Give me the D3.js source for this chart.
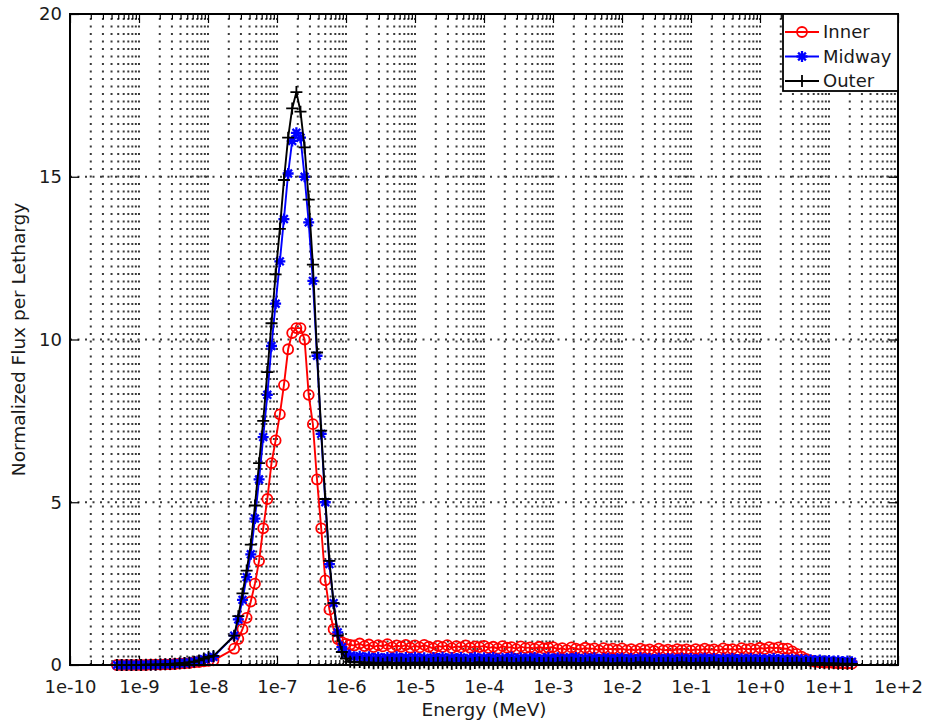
<!DOCTYPE html>
<html>
<head>
<meta charset="utf-8">
<title>Normalized flux per lethargy</title>
<script src="https://cdn.jsdelivr.net/npm/d3@7"></script>
<style>
  body { margin: 0; background: #fff; }
  text { font-family: "DejaVu Sans", sans-serif; fill: #1a1a1a; }
  .grid line { stroke: #3a3a3a; stroke-width: 2; stroke-dasharray: 2 5.5; }
  .ticks line { stroke: #000; stroke-width: 1.2; }
  .ticks path { display: none; }
</style>
</head>
<body>
<svg id="chart" width="929" height="723"></svg>
<script>
// energy grid (MeV), shared by the three curves
var energy = [
  4.79e-10, 5.62e-10, 6.61e-10, 7.76e-10, 9.12e-10, 1.07e-9, 1.26e-9, 1.48e-9, 1.74e-9, 2.04e-9,
  2.40e-9, 2.82e-9, 3.31e-9, 3.89e-9, 4.57e-9, 5.37e-9, 6.31e-9, 7.41e-9, 8.71e-9, 1.02e-8, 1.20e-8,
  2.40e-8, 2.75e-8, 3.16e-8, 3.63e-8, 4.17e-8, 4.79e-8, 5.50e-8, 6.31e-8, 7.24e-8, 8.32e-8,
  9.55e-8, 1.10e-7, 1.26e-7, 1.45e-7, 1.66e-7, 1.91e-7, 2.19e-7, 2.51e-7, 2.88e-7, 3.31e-7,
  3.80e-7, 4.37e-7, 5.01e-7, 5.75e-7, 6.61e-7, 7.59e-7, 8.71e-7, 1.00e-6, 1.15e-6, 1.32e-6,
  1.58e-6, 1.85e-6, 2.15e-6, 2.51e-6, 2.93e-6, 3.41e-6, 3.98e-6, 4.64e-6, 5.41e-6, 6.31e-6, 7.36e-6, 8.58e-6,
  1.00e-5, 1.17e-5, 1.36e-5, 1.58e-5, 1.85e-5, 2.15e-5, 2.51e-5, 2.93e-5, 3.41e-5, 3.98e-5, 4.64e-5, 5.41e-5, 6.31e-5, 7.36e-5, 8.58e-5,
  1.00e-4, 1.17e-4, 1.36e-4, 1.58e-4, 1.85e-4, 2.15e-4, 2.51e-4, 2.93e-4, 3.41e-4, 3.98e-4, 4.64e-4, 5.41e-4, 6.31e-4, 7.36e-4, 8.58e-4,
  1.00e-3, 1.17e-3, 1.36e-3, 1.58e-3, 1.85e-3, 2.15e-3, 2.51e-3, 2.93e-3, 3.41e-3, 3.98e-3, 4.64e-3, 5.41e-3, 6.31e-3, 7.36e-3, 8.58e-3,
  1.00e-2, 1.17e-2, 1.36e-2, 1.58e-2, 1.85e-2, 2.15e-2, 2.51e-2, 2.93e-2, 3.41e-2, 3.98e-2, 4.64e-2, 5.41e-2, 6.31e-2, 7.36e-2, 8.58e-2,
  1.00e-1, 1.17e-1, 1.36e-1, 1.58e-1, 1.85e-1, 2.15e-1, 2.51e-1, 2.93e-1, 3.41e-1, 3.98e-1, 4.64e-1, 5.41e-1, 6.31e-1, 7.36e-1, 8.58e-1,
  1.00, 1.17, 1.36, 1.58, 1.85, 2.15, 2.51, 2.93, 3.41, 3.98, 4.64, 5.41, 6.31, 7.36, 8.58,
  10.0, 11.7, 13.6, 15.8, 18.5, 21.5
];

var inner = [
  0, 0, 0, 0, 0, 0, 0, 0.01, 0.01, 0.01, 0.02, 0.02, 0.03, 0.04, 0.05, 0.06, 0.08, 0.09, 0.11, 0.13, 0.14,
  0.5, 0.8, 1.1, 1.45, 1.95, 2.5, 3.2, 4.2, 5.1, 6.2, 6.9, 7.7, 8.6, 9.7, 10.2,
  10.35, 10.35, 10.0, 8.3, 7.4, 5.7, 4.2, 2.6, 1.7, 1.1, 0.8, 0.7, 0.65, 0.62, 0.6,
  0.66, 0.58, 0.63, 0.55, 0.61, 0.57, 0.64, 0.54, 0.6, 0.56, 0.62, 0.53,
  0.6, 0.54, 0.62, 0.56, 0.51, 0.59, 0.55, 0.61, 0.52, 0.58, 0.54, 0.6, 0.53, 0.57, 0.55,
  0.59, 0.52, 0.56, 0.5, 0.58, 0.53, 0.55, 0.49, 0.57, 0.52, 0.54, 0.5, 0.56, 0.51, 0.53,
  0.55, 0.48, 0.52, 0.46, 0.54, 0.5, 0.47, 0.53, 0.49, 0.51, 0.45, 0.52, 0.48, 0.5, 0.46,
  0.51, 0.45, 0.49, 0.44, 0.5, 0.46, 0.48, 0.43, 0.5, 0.45, 0.47, 0.44, 0.49, 0.46, 0.48,
  0.44, 0.49, 0.45, 0.5, 0.46, 0.48, 0.44, 0.51, 0.47, 0.49, 0.45, 0.52, 0.48, 0.5, 0.47,
  0.53, 0.49, 0.55, 0.51, 0.54, 0.5, 0.5, 0.42, 0.34, 0.26, 0.19, 0.13, 0.1, 0.08, 0.07,
  0.07, 0.06, 0.05, 0.05, 0.04, 0.04
];

var midway = [
  0, 0, 0, 0, 0, 0, 0.01, 0.01, 0.01, 0.02, 0.02, 0.03, 0.04, 0.05, 0.06, 0.08, 0.1, 0.13, 0.18, 0.22, 0.25,
  0.9, 1.4, 2.0, 2.7, 3.4, 4.5, 5.7, 7.0, 8.3, 9.8, 11.1, 12.4, 13.7, 15.1, 16.1,
  16.35, 16.2, 15.0, 13.6, 11.8, 9.5, 7.1, 5.0, 3.1, 1.9, 1.0, 0.55, 0.35, 0.28, 0.25,
  0.27, 0.22, 0.25, 0.2, 0.24, 0.19, 0.23, 0.21, 0.25, 0.2, 0.23, 0.19,
  0.24, 0.2, 0.22, 0.18, 0.23, 0.2, 0.24, 0.19, 0.22, 0.2, 0.23, 0.18, 0.21, 0.24, 0.19,
  0.22, 0.19, 0.23, 0.18, 0.21, 0.2, 0.24, 0.18, 0.22, 0.19, 0.21, 0.23, 0.18, 0.2, 0.22,
  0.19, 0.22, 0.18, 0.21, 0.2, 0.23, 0.17, 0.21, 0.19, 0.22, 0.18, 0.2, 0.21, 0.17, 0.2,
  0.21, 0.18, 0.2, 0.17, 0.22, 0.19, 0.2, 0.17, 0.21, 0.18, 0.2, 0.19, 0.17, 0.21, 0.18,
  0.2, 0.17, 0.19, 0.21, 0.18, 0.2, 0.17, 0.19, 0.18, 0.2, 0.17, 0.19, 0.18, 0.2, 0.17,
  0.19, 0.17, 0.18, 0.2, 0.17, 0.18, 0.16, 0.18, 0.15, 0.17, 0.15, 0.16, 0.14, 0.15, 0.13,
  0.14, 0.12, 0.13, 0.11, 0.12, 0.1
];

var outer = [
  0, 0, 0, 0, 0, 0, 0.01, 0.01, 0.01, 0.02, 0.02, 0.03, 0.04, 0.05, 0.06, 0.08, 0.1, 0.14, 0.2, 0.25, 0.28,
  0.9, 1.5, 2.2, 2.9, 3.7, 4.9, 6.2, 7.5, 9.0, 10.5, 12.0, 13.4, 14.9, 16.2, 17.1,
  17.6, 17.0, 15.9, 14.3, 12.3, 9.6, 7.2, 5.1, 3.2, 1.9, 0.9, 0.4, 0.2, 0.1, 0.08,
  0.09, 0.06, 0.08, 0.05, 0.07, 0.04, 0.08, 0.06, 0.05, 0.07, 0.04, 0.06,
  0.07, 0.05, 0.08, 0.04, 0.06, 0.07, 0.05, 0.08, 0.04, 0.06, 0.05, 0.07, 0.04, 0.06, 0.08,
  0.05, 0.07, 0.04, 0.06, 0.08, 0.05, 0.06, 0.04, 0.07, 0.05, 0.08, 0.04, 0.06, 0.05, 0.07,
  0.04, 0.06, 0.08, 0.05, 0.07, 0.04, 0.06, 0.05, 0.08, 0.04, 0.06, 0.07, 0.05, 0.04, 0.06,
  0.07, 0.05, 0.04, 0.06, 0.08, 0.05, 0.07, 0.04, 0.06, 0.05, 0.07, 0.04, 0.06, 0.08, 0.05,
  0.06, 0.04, 0.07, 0.05, 0.06, 0.08, 0.04, 0.06, 0.05, 0.07, 0.04, 0.06, 0.05, 0.07, 0.05,
  0.06, 0.04, 0.07, 0.05, 0.06, 0.04, 0.06, 0.05, 0.07, 0.04, 0.06, 0.05, 0.04, 0.06, 0.05,
  0.04, 0.05, 0.04, 0.03, 0.04, 0.03
];

var seriesNames = ["Inner", "Midway", "Outer"];
var seriesColors = ["#ff0000", "#0000ff", "#000000"];
var xDecades = [1e-10, 1e-9, 1e-8, 1e-7, 1e-6, 1e-5, 1e-4, 1e-3, 1e-2, 1e-1, 1e0, 1e1, 1e2];
var yTicks = [0, 5, 10, 15, 20];

var margin = {top: 14, right: 31, bottom: 58, left: 70},
    width = 929 - margin.left - margin.right,
    height = 723 - margin.top - margin.bottom;

var svg = d3.select("#chart");
var g = svg.append("g")
    .attr("transform", "translate(" + margin.left + "," + margin.top + ")");

var x = d3.scaleLog().domain([1e-10, 1e2]).range([0, width]);
var y = d3.scaleLinear().domain([0, 20]).range([height, 0]);

// minor ticks 2..9 of every decade
var xMinor = [];
xDecades.slice(0, -1).forEach(function(d) {
  for (var k = 2; k <= 9; k++) xMinor.push(k * d);
});

function decadeLabel(d) {
  var e = Math.round(Math.log10(d));
  return "1e" + (e >= 0 ? "+" : "") + e;
}

// dotted grid
var grid = g.append("g").attr("class", "grid");
grid.selectAll(".vg")
  .data(xMinor.concat(xDecades.slice(1, -1)))
  .enter().append("line")
    .attr("x1", function(d) { return x(d); })
    .attr("x2", function(d) { return x(d); })
    .attr("y1", height)
    .attr("y2", 0);
grid.selectAll(".hg")
  .data([5, 10, 15])
  .enter().append("line")
    .attr("x1", 0)
    .attr("x2", width)
    .attr("y1", function(d) { return y(d); })
    .attr("y2", function(d) { return y(d); });

// ticks (drawn inward, gnuplot style)
var bottom = g.append("g").attr("class", "ticks")
  .attr("transform", "translate(0," + height + ")")
  .call(d3.axisBottom(x).tickValues(xDecades).tickFormat(decadeLabel).tickSize(-9).tickPadding(15));
bottom.selectAll("text").style("font-size", "18px").attr("fill", "#1a1a1a");
g.append("g").attr("class", "ticks")
  .attr("transform", "translate(0," + height + ")")
  .call(d3.axisBottom(x).tickValues(xMinor).tickFormat("").tickSize(-5));
g.append("g").attr("class", "ticks")
  .call(d3.axisTop(x).tickValues(xDecades).tickFormat("").tickSize(-9));
g.append("g").attr("class", "ticks")
  .call(d3.axisTop(x).tickValues(xMinor).tickFormat("").tickSize(-5));
var left = g.append("g").attr("class", "ticks")
  .call(d3.axisLeft(y).tickValues(yTicks).tickSize(-9).tickPadding(8));
left.selectAll("text").style("font-size", "18px").attr("fill", "#1a1a1a");
g.append("g").attr("class", "ticks")
  .attr("transform", "translate(" + width + ",0)")
  .call(d3.axisRight(y).tickValues(yTicks).tickFormat("").tickSize(-9));

// curves
var seriesValues = [inner, midway, outer];
var line = d3.line()
  .x(function(d) { return x(d.e); })
  .y(function(d) { return y(d.v); });

var plusPath = "M-6,0H6M0,-6V6";
var starPath = "M-5.5,0H5.5M0,-5.5V5.5M-3.9,-3.9L3.9,3.9M-3.9,3.9L3.9,-3.9";

function drawMarker(sel, i, color) {
  if (i === 0) {
    sel.append("circle").attr("r", 5)
      .attr("fill", "none").attr("stroke", color).attr("stroke-width", 1.8);
  } else {
    sel.append("path").attr("d", i === 1 ? starPath : plusPath)
      .attr("fill", "none").attr("stroke", color).attr("stroke-width", i === 1 ? 2.3 : 1.8);
  }
}

seriesValues.forEach(function(vals, i) {
  var pts = energy.map(function(e, j) { return {e: e, v: vals[j]}; });
  var sg = g.append("g");
  sg.append("path")
    .datum(pts)
    .attr("d", line)
    .attr("fill", "none")
    .attr("stroke", seriesColors[i])
    .attr("stroke-width", 1.9);
  sg.selectAll(".m")
    .data(pts)
    .enter().append("g")
      .attr("transform", function(d) { return "translate(" + x(d.e) + "," + y(d.v) + ")"; })
      .each(function() { drawMarker(d3.select(this), i, seriesColors[i]); });
});

// frame
g.append("rect")
  .attr("width", width).attr("height", height)
  .attr("fill", "none").attr("stroke", "#000").attr("stroke-width", 2);

// legend
var legend = g.append("g").attr("transform", "translate(" + (width - 115) + ",0)");
legend.append("rect")
  .attr("width", 115).attr("height", 77)
  .attr("fill", "#fff").attr("stroke", "#000").attr("stroke-width", 1.8);
seriesNames.forEach(function(name, i) {
  var row = legend.append("g").attr("transform", "translate(0," + (18 + i * 24.5) + ")");
  row.append("line").attr("x1", 2).attr("x2", 36)
    .attr("stroke", seriesColors[i]).attr("stroke-width", 1.9);
  drawMarker(row.append("g").attr("transform", "translate(19,0)"), i, seriesColors[i]);
  row.append("text").attr("x", 40).attr("dy", "0.36em")
    .style("font-size", "18px").text(name);
});

// axis titles
g.append("text")
  .attr("x", width / 2).attr("y", height + 51)
  .attr("text-anchor", "middle").style("font-size", "18.5px")
  .text("Energy (MeV)");
g.append("text")
  .attr("transform", "translate(" + (25 - margin.left) + "," + (height / 2) + ") rotate(-90)")
  .attr("text-anchor", "middle").style("font-size", "18.5px")
  .text("Normalized Flux per Lethargy");
</script>
</body>
</html>
